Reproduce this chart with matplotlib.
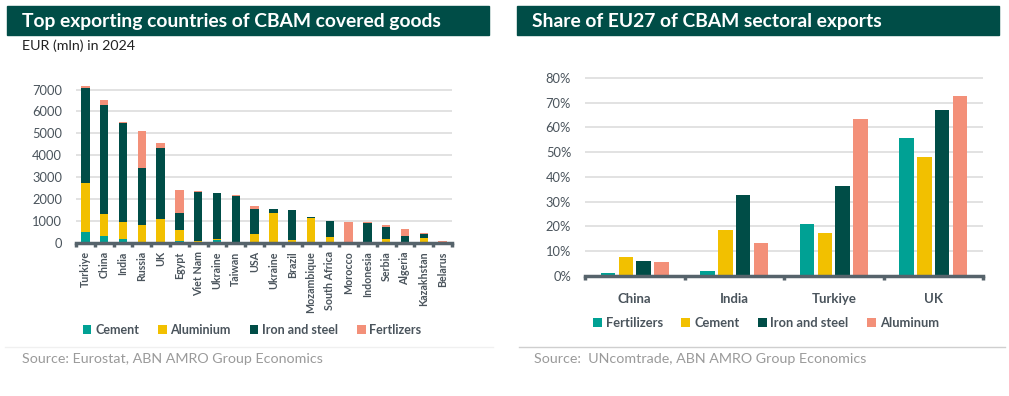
import numpy as np
import matplotlib
matplotlib.use('Agg')
import matplotlib.pyplot as plt
from matplotlib.patches import Rectangle
from matplotlib.lines import Line2D
from matplotlib.ticker import FixedLocator, PercentFormatter

plt.rcParams['font.family'] = ['Lato', 'DejaVu Sans']

# Left chart: EUR (mln) in 2024
countries = ['Turkiye', 'China', 'India', 'Russia', 'UK', 'Egypt', 'Viet Nam', 'Ukraine',
             'Taiwan', 'USA', 'Ukraine', 'Brazil', 'Mozambique', 'South Africa', 'Morocco',
             'Indonesia', 'Serbia', 'Algeria', 'Kazakhstan', 'Belarus']
cement = [520, 335, 200, 20, 10, 70, 0, 120, 0, 0, 0, 0, 0, 0, 0, 0, 0, 0, 0, 0]
aluminium = [2200, 1000, 760, 820, 1080, 540, 70, 40, 0, 410, 1350, 150, 1140, 270, 0, 0, 180, 0, 240, 0]
iron_steel = [4350, 4980, 4500, 2600, 3240, 780, 2260, 2110, 2140, 1120, 180, 1340, 30, 720, 0, 910, 560, 320, 180, 0]
fertilizers = [80, 230, 50, 1670, 215, 1050, 30, 30, 30, 160, 30, 20, 0, 30, 970, 30, 90, 330, 50, 100]

# Right chart: share of EU27 in sectoral exports (%)
partners = ['China', 'India', 'Turkiye', 'UK']
share_fert = [1.4, 1.9, 21.1, 55.9]
share_cement = [7.7, 18.6, 17.4, 48.2]
share_iron = [5.9, 32.7, 36.4, 66.9]
share_alum = [5.8, 13.5, 63.6, 72.9]

TEAL = '#00a194'
YELLOW = '#f2c000'
DARK = '#004d47'
SALMON = '#f39079'
AXIS = '#56636b'
GRID = '#e2e2e2'
TXT = '#4a545c'

W, H = 1009, 396
fig = plt.figure(figsize=(W / 100, H / 100), dpi=100)


def px(x0, y0, x1, y1):
    # pixel box (top-left origin) -> figure fraction rect
    return [x0 / W, 1 - y1 / H, (x1 - x0) / W, (y1 - y0) / H]


def banner(x0, x1, text):
    fig.patches.append(Rectangle((x0 / W, 1 - 35 / H), (x1 - x0) / W, 29 / H,
                                 transform=fig.transFigure, color=DARK, zorder=0))
    fig.text((x0 + 15) / W, 1 - 21 / H, text, color='white', fontsize=13.9,
             fontweight='bold', va='center', ha='left')


def style_axis(ax):
    for s in ['top', 'right', 'left']:
        ax.spines[s].set_visible(False)
    ax.spines['bottom'].set_color(AXIS)
    ax.spines['bottom'].set_linewidth(2.5)
    ax.spines['bottom'].set_zorder(5)
    ax.grid(axis='y', color=GRID, linewidth=1.4)
    ax.set_axisbelow(True)
    ax.tick_params(axis='y', length=0, labelsize=9.3, labelcolor=TXT, pad=10)
    ax.tick_params(axis='x', which='major', length=3, width=2.5, color=AXIS, labelbottom=False)
    ax.tick_params(axis='x', which='minor', length=0)


banner(7, 489, 'Top exporting countries of CBAM covered goods')
banner(517, 999, 'Share of EU27 of CBAM sectoral exports')
fig.text(22 / W, 1 - 46 / H, 'EUR (mln) in 2024', fontsize=10.3, color='#222222', va='center')

# ---- left: stacked bars
ax1 = fig.add_axes(px(76, 83, 452, 243))
x = np.arange(len(countries))
c = np.array(cement)
a = np.array(aluminium)
i = np.array(iron_steel)
f = np.array(fertilizers)
bw = 0.44
ax1.bar(x, c, bw, color=TEAL, label='Cement', zorder=3)
ax1.bar(x, a, bw, bottom=c, color=YELLOW, label='Aluminium', zorder=3)
ax1.bar(x, i, bw, bottom=c + a, color=DARK, label='Iron and steel', zorder=3)
ax1.bar(x, f, bw, bottom=c + a + i, color=SALMON, label='Fertlizers', zorder=3)
ax1.set_xlim(-0.5, len(countries) - 0.5)
ax1.set_ylim(0, 7300)
ax1.set_yticks(np.arange(0, 7001, 1000))
style_axis(ax1)
ax1.xaxis.set_major_locator(FixedLocator(np.arange(-0.5, len(countries), 1)))
ax1.xaxis.set_minor_locator(FixedLocator(x))
ax1.set_xticklabels(countries, minor=True, rotation=90, fontsize=7.7,
                    color=TXT, fontweight='bold')
ax1.tick_params(axis='x', which='minor', pad=6)
ax1.legend(loc='center', bbox_to_anchor=(252 / W, 1 - 330 / H), bbox_transform=fig.transFigure,
           ncol=4, frameon=False, handlelength=0.7, handleheight=0.7,
           handletextpad=0.3, columnspacing=1.5, labelcolor=TXT, prop={'weight': 'bold', 'size': 9})

# ---- right: grouped bars
ax2 = fig.add_axes(px(585, 73, 983, 276))
xp = np.arange(len(partners))
w = 0.146
step = 0.18
series = [(share_fert, TEAL, 'Fertilizers'), (share_cement, YELLOW, 'Cement'),
          (share_iron, DARK, 'Iron and steel'), (share_alum, SALMON, 'Aluminum')]
for k, (vals, col, lab) in enumerate(series):
    ax2.bar(xp + (k - 1.5) * step, vals, w, color=col, label=lab, zorder=3)
ax2.set_xlim(-0.5, len(partners) - 0.5)
ax2.set_ylim(0, 82)
ax2.set_yticks(np.arange(0, 81, 10))
ax2.yaxis.set_major_formatter(PercentFormatter(decimals=0))
style_axis(ax2)
ax2.xaxis.set_major_locator(FixedLocator(np.arange(-0.5, len(partners), 1)))
ax2.xaxis.set_minor_locator(FixedLocator(xp))
ax2.set_xticklabels(partners, minor=True, fontsize=9.5, color=TXT, fontweight='bold')
ax2.tick_params(axis='x', which='minor', pad=12)
ax2.legend(loc='center', bbox_to_anchor=(766 / W, 1 - 323 / H), bbox_transform=fig.transFigure,
           ncol=4, frameon=False, handlelength=0.7, handleheight=0.7,
           handletextpad=0.3, columnspacing=1.4, labelcolor=TXT, prop={'weight': 'bold', 'size': 9.3})

# separators and sources
fig.lines.append(Line2D([5 / W, 493 / W], [1 - 347 / H] * 2, transform=fig.transFigure,
                        color='#f0f0f0', linewidth=1))
fig.lines.append(Line2D([519 / W, 1005 / W], [1 - 347 / H] * 2, transform=fig.transFigure,
                        color='#cfcfcf', linewidth=1))
fig.text(22 / W, 1 - 359 / H, 'Source: Eurostat, ABN AMRO Group Economics',
         fontsize=10.3, color='#9a9a9a', va='center')
fig.text(534 / W, 1 - 359 / H, 'Source:  UNcomtrade, ABN AMRO Group Economics',
         fontsize=10.3, color='#9a9a9a', va='center')

fig.savefig('out.png', dpi=100)
